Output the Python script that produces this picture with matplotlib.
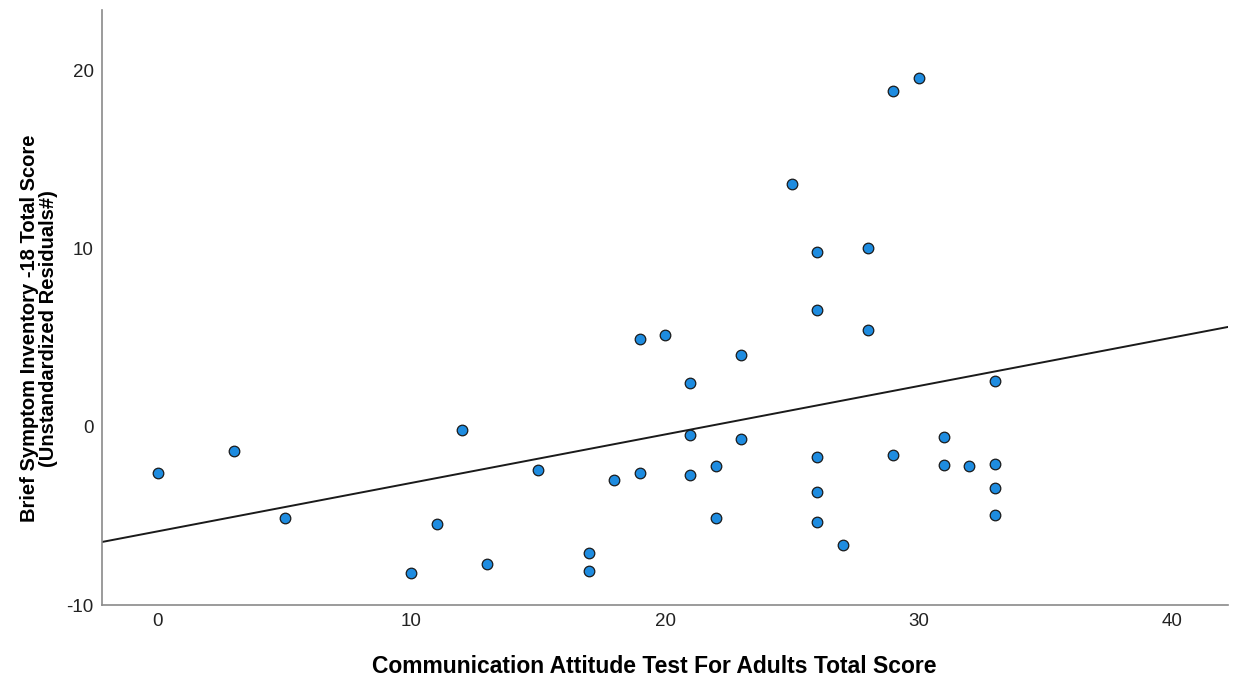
import matplotlib.pyplot as plt
import numpy as np

x_vals = [0, 3, 5, 10, 11, 12, 13, 15, 17, 17, 18, 19, 19, 20, 21, 21, 21, 22, 22, 23,
          23, 25, 26, 26, 26, 26, 26, 27, 28, 28, 29, 29, 30, 31, 31, 32, 33, 33, 33, 33]
y_vals = [-2.58, -1.35, -5.11, -8.2, -5.45, -0.17, -7.70, -2.42, -7.10, -8.07, -3.0,
          4.93, -2.57, 5.19, 2.45, -0.43, -2.70, -2.19, -5.11, 4.03, -0.67, 13.65,
          9.83, 6.57, -1.70, -3.67, -5.32, -6.63, 10.07, 5.45, 18.88, -1.57, 19.62,
          -0.54, -2.15, -2.17, 2.58, -2.06, -3.44, -4.93]

# fit line
fit_intercept = -5.86
fit_slope = 0.272

x_ticks = [0, 10, 20, 30, 40]
y_ticks = [-10, 0, 10, 20]

plt.rcParams['font.family'] = ['Liberation Sans', 'DejaVu Sans']
plt.rcParams['axes.unicode_minus'] = False

fig = plt.figure(figsize=(12.33, 6.86), dpi=100)
ax = fig.add_axes([0.0827, 0.118, 0.9133, 0.867])

xlim = (-2.2, 42.2)
ax.set_xlim(xlim)
ax.set_ylim(-10, 23.4)

lx = np.array(xlim)
ax.plot(lx, fit_intercept + fit_slope * lx, color='#1a1a1a', linewidth=1.4, zorder=2)

ax.scatter(x_vals, y_vals, s=58, color='#1e8ce0', edgecolors='#1a1a1a',
           linewidths=0.9, zorder=3)

ax.set_xticks(x_ticks)
ax.set_yticks(y_ticks)
ax.tick_params(length=0, labelsize=13.5, colors='#222222')
ax.tick_params(axis='y', pad=6)
ax.tick_params(axis='x', pad=6)

for s in ['top', 'right']:
    ax.spines[s].set_visible(False)
for s in ['left', 'bottom']:
    ax.spines[s].set_color('#8a8a8a')
    ax.spines[s].set_linewidth(1.2)

ax.set_xlabel('Communication Attitude Test For Adults Total Score',
              fontsize=16.5, fontweight='bold')
ax.xaxis.set_label_coords(0.49, -0.084)
ax.set_ylabel('Brief Symptom Inventory -18 Total Score\n(Unstandardized Residuals#)',
              fontsize=14.5, fontweight='bold', linespacing=1.0)
ax.yaxis.set_label_coords(-0.039, 0.465)

fig.savefig('out.png', dpi=100)
